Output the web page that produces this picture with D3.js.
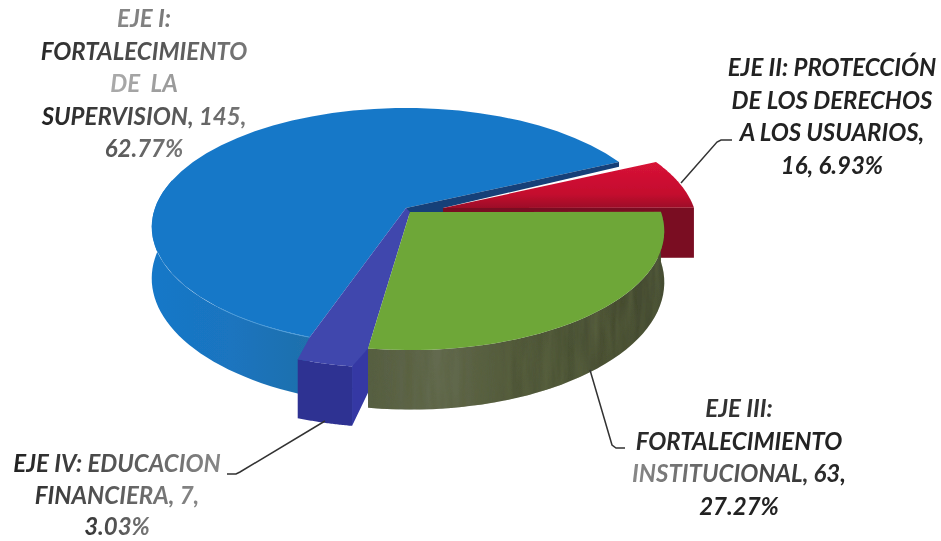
<!DOCTYPE html>
<html><head><meta charset="utf-8">
<script src="https://cdn.jsdelivr.net/npm/d3@7/dist/d3.min.js"></script>
<style>html,body{margin:0;background:#fff}svg{display:block}</style></head>
<body><svg id="c" width="941" height="541"></svg>
<script>
const categories = ["EJE I","EJE II","EJE III","EJE IV"];
const seriesValues = [145,16,63,7];
const topColors = ["#1878c8","url(#gRedTop)","#6ea739","#3f46ad"];
const cutColors = ["#143f78","#7a0a24","#565d3e","#3439a4"];
const explodeX = [-4,33,0,-16];
const explodeY = [-2,-2,2,20];
const labelLines = [
  ["EJE I:","FORTALECIMIENTO","DE  LA","SUPERVISION, 145,","62.77%"],
  ["EJE II: PROTECCIÓN","DE LOS DERECHOS","A LOS USUARIOS,","16, 6.93%"],
  ["EJE III:","FORTALECIMIENTO","INSTITUCIONAL, 63,","27.27%"],
  ["EJE IV: EDUCACION","FINANCIERA, 7,","3.03%"]
];
const labelX = [144,832,739,117];
const labelY = [27,76,417,472];
const labelGap = [32.5,32.5,32.5,31.5];
const lineFillA = [
  ["#888","#2a2a2a","#aaa","#222","#555"],
  ["#222","#222","#222","#222"],
  ["#333","#2a2a2a","#888","#222"],
  ["#222","#333","#333"]
];
const lineFillB = [
  ["#777","#777","#999","#777","#777"],
  ["#222","#222","#222","#222"],
  ["#333","#222","#222","#222"],
  ["#888","#888","#777"]
];
const leaders = [
  null,
  [[681,183],[717,142],[721,140],[732,140]],
  [[590,370],[612,445],[616,448],[625,448]],
  [[325,421],[240,472],[236,474],[227,474]]
];

const startDeg = 199, R = 251, persp = 0.16, flat = 116/251, depth = 50;
const cx = 410, cy = 210;
const sx = d3.scaleLinear().domain([0,1]).range([cx,cx+R]);
const sy = d3.scaleLinear().domain([0,1]).range([cy,cy+R*flat]);
const project = (a,i,down=0)=>{
  const X=Math.sin(a), Y=-Math.cos(a), s=1/(1-persp*Y);
  return [sx(X*s)+explodeX[i], sy(Y*s)+explodeY[i]+down*depth*s];
};
const apex = i=>[sx(0)+explodeX[i],sy(0)+explodeY[i]];
const arcs = d3.pie().sort(null).value(d=>d)
  .startAngle(startDeg*Math.PI/180).endAngle((startDeg+360)*Math.PI/180)(seriesValues);
const line = d3.line();
const arcPts = (a0,a1,i,down=0)=>d3.range(0,41).map(k=>project(a0+(a1-a0)*k/40,i,down));
const svg = d3.select("#c");
const defs = svg.append("defs");
const f = defs.append("filter").attr("id","soft").attr("x","-5%").attr("y","-5%").attr("width","110%").attr("height","110%");
f.append("feGaussianBlur").attr("stdDeviation",0.7);
const ft = defs.append("filter").attr("id","softT").attr("x","-5%").attr("y","-20%").attr("width","110%").attr("height","140%");
ft.append("feGaussianBlur").attr("stdDeviation",0.45);
const g2 = defs.append("filter").attr("id","streak").attr("x","0").attr("y","0").attr("width","100%").attr("height","100%");
g2.append("feTurbulence").attr("type","fractalNoise").attr("baseFrequency","0.09 0.012").attr("numOctaves",3).attr("seed",4).attr("result","n");
g2.append("feColorMatrix").attr("in","n").attr("type","matrix")
  .attr("values","0 0 0 0 0.1  0 0 0 0 0.12  0 0 0 0 0.05  1.6 0 0 0 -0.55").attr("result","t");
g2.append("feComposite").attr("in","t").attr("in2","SourceAlpha").attr("operator","in").attr("result","c");
const m = g2.append("feMerge"); m.append("feMergeNode").attr("in","SourceGraphic"); m.append("feMergeNode").attr("in","c");

const grad = (id,stops,vertical)=>{const g=defs.append("linearGradient").attr("id",id).attr("x1",0).attr("x2",vertical?0:1).attr("y1",0).attr("y2",vertical?1:0);
  stops.forEach(([o,c])=>g.append("stop").attr("offset",o).attr("stop-color",c));};
grad("gBlueSide",[[0,"#1878c8"],[0.5,"#1a74bf"],[1,"#2070ac"]]);
grad("gGreenSide",[[0,"#565e42"],[0.25,"#646b50"],[0.5,"#4f5638"],[1,"#434a30"]]);
grad("gRedTop",[[0,"#d81236"],[0.7,"#c40f2e"],[1,"#9c0c28"]],true);
const layer = svg.append("g").attr("filter","url(#soft)");

const wall=(pts0,pts1,fill,extra)=>{const p=layer.append("path").attr("d",line(pts0.concat(pts1.slice().reverse()))+"Z").attr("fill",fill);if(extra)p.attr("filter",extra);return p;};
const wedge=(d,i,fill)=>layer.append("path").attr("d",line([apex(i)].concat(arcPts(d.startAngle,d.endAngle,i)))+"Z").attr("fill",fill);
const [A0,A1,A2,A3]=arcs;

// EJE I: only the front part of the outer wall can be seen
const blueWallEnd = Math.min(A0.endAngle,1.58*Math.PI);
wall(arcPts(A0.startAngle,blueWallEnd,0),arcPts(A0.startAngle,blueWallEnd,0,1),"url(#gBlueSide)");
wedge(A0,0,topColors[0]);
layer.append("path").attr("d",line(arcPts(A0.startAngle,A0.startAngle+0.38,0))).attr("fill","none").attr("stroke","#4a9ad8").attr("stroke-width",1);
// dark cut face of EJE I, between it and EJE II, running down behind EJE III
layer.append("path").attr("d",line([apex(0),project(A0.endAngle,0),project(A0.endAngle,0,0.1),apex(1),[apex(1)[0],apex(2)[1]+3],[apex(2)[0],apex(2)[1]+3]])+"Z").attr("fill",cutColors[0]);
// EJE II
const redEnd=project(A1.endAngle,1), redEndLow=project(A1.endAngle,1,1);
wall([apex(1),redEnd],[[apex(1)[0],apex(1)[1]+depth],redEndLow],cutColors[1]);
wedge(A1,1,topColors[1]);
// EJE IV: pulled out of the pie, its faces reach back to the edge of EJE I
const pe=project(A3.startAngle,3);
const gOuter=project(A2.endAngle,2);
layer.append("path").attr("d",line([apex(0),pe,[pe[0],pe[1]+depth*1.19],[gOuter[0]+2,gOuter[1]+depth*0.8],gOuter])+"Z").attr("fill",cutColors[3]);
wall(arcPts(A3.startAngle,A3.endAngle,3),arcPts(A3.startAngle,A3.endAngle,3,1),"#2f3292");
layer.append("path").attr("d",line([apex(0),project(A0.startAngle,0)].concat(arcPts(A3.endAngle,A3.startAngle,3)).concat([gOuter,apex(2)]))+"Z").attr("fill",topColors[3]);
// EJE III
wall(arcPts(A2.startAngle,A2.endAngle,2),arcPts(A2.startAngle,A2.endAngle,2,1),"url(#gGreenSide)","url(#streak)");
wedge(A2,2,topColors[2]);

// leaders
leaders.forEach(l=>{ if(l) svg.append("path").attr("d",line(l)).attr("fill","none").attr("stroke","#333").attr("stroke-width",1.5).attr("filter","url(#softT)"); });
// labels
labelLines.forEach((ls,i)=>{
  ls.forEach((s,k)=>{
    const id="t"+i+"_"+k;
    grad(id,[[0,lineFillA[i][k]],[1,lineFillB[i][k]]]);
    svg.append("text").attr("text-anchor","middle").attr("x",labelX[i]).attr("y",labelY[i]+k*labelGap[i])
      .attr("font-family","Lato").attr("font-style","italic").attr("font-weight",700).attr("font-size",24)
      .attr("xml:space","preserve").attr("fill","url(#"+id+")").attr("filter","url(#softT)").text(s);
  });
});
</script></body></html>
